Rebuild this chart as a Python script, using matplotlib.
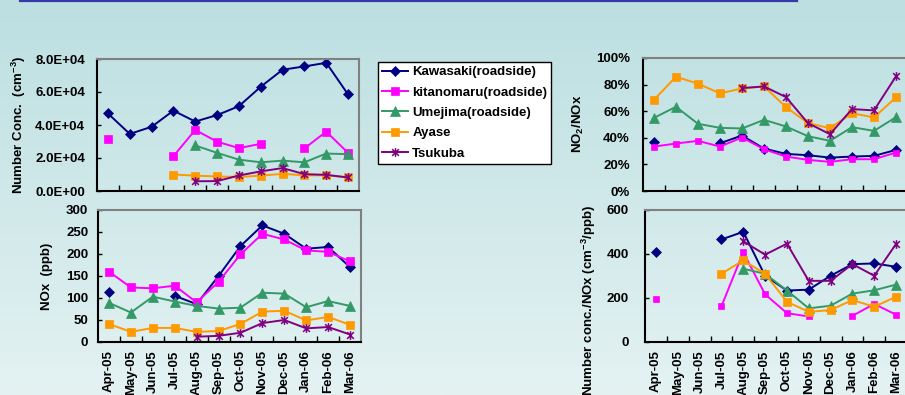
import numpy as np
import matplotlib.pyplot as plt
from matplotlib.path import Path
from matplotlib.lines import Line2D
from matplotlib.ticker import FuncFormatter, MultipleLocator, FixedLocator

plt.rcParams['font.family'] = ['Liberation Sans', 'DejaVu Sans']
plt.rcParams['font.weight'] = 'bold'
plt.rcParams['font.size'] = 9.5

nan = np.nan
months = ['Apr-05', 'May-05', 'Jun-05', 'Jul-05', 'Aug-05', 'Sep-05',
          'Oct-05', 'Nov-05', 'Dec-05', 'Jan-06', 'Feb-06', 'Mar-06']
sites = ['Kawasaki(roadside)', 'kitanomaru(roadside)', 'Umejima(roadside)',
         'Ayase', 'Tsukuba']

# particle number concentration (cm-3)
kawasaki_num = [4.70e4, 3.46e4, 3.89e4, 4.87e4, 4.21e4, 4.60e4, 5.14e4, 6.32e4, 7.35e4, 7.55e4, 7.77e4, 5.85e4]
kitano_num = [3.13e4, nan, nan, 2.11e4, 3.70e4, 2.99e4, 2.60e4, 2.86e4, nan, 2.58e4, 3.60e4, 2.31e4]
umejima_num = [nan, nan, nan, nan, 2.76e4, 2.31e4, 1.90e4, 1.74e4, 1.84e4, 1.74e4, 2.27e4, 2.23e4]
ayase_num = [nan, nan, nan, 1.00e4, 0.93e4, 0.88e4, 0.85e4, 0.93e4, 1.04e4, 0.95e4, 0.95e4, 0.82e4]
tsukuba_num = [nan, nan, nan, nan, 0.59e4, 0.60e4, 0.94e4, 1.19e4, 1.39e4, 1.02e4, 0.98e4, 0.82e4]

# NOx (ppb)
kawasaki_nox = [113, nan, nan, 105, 86, 150, 218, 265, 246, 212, 216, 170]
kitano_nox = [160, 124, 122, 128, 90, 137, 199, 246, 233, 208, 205, 183]
umejima_nox = [89, 67, 103, 92, 82, 76, 78, 112, 110, 79, 93, 82]
ayase_nox = [41, 23, 32, 32, 23, 25, 41, 69, 71, 49, 57, 39]
tsukuba_nox = [nan, nan, nan, nan, 12, 14, 21, 43, 50, 31, 34, 17]

# NO2/NOx (%)
kawasaki_ratio = [36.7, nan, nan, 35.9, 41.7, 31.9, 27.9, 26.9, 25.1, 25.9, 26.4, 30.9]
kitano_ratio = [33.4, 35.7, 37.7, 33.4, 40.2, 31.4, 25.9, 23.4, 21.9, 23.9, 23.9, 28.9]
umejima_ratio = [55.0, 63.3, 50.5, 47.5, 47.0, 53.5, 48.5, 41.2, 37.7, 48.0, 45.2, 55.5]
ayase_ratio = [68.6, 85.9, 80.7, 73.4, 77.1, 78.6, 63.1, 51.0, 47.2, 58.5, 55.3, 70.4]
tsukuba_ratio = [nan, nan, nan, nan, 77.4, 78.6, 70.6, 51.0, 42.7, 61.6, 60.6, 86.2]

# number conc. per NOx (cm-3/ppb)
kawasaki_pn = [408, nan, nan, 466, 501, 301, 234, 238, 301, 354, 357, 342]
kitano_pn = [197, nan, nan, 162, 408, 217, 131, 116, nan, 119, 173, 124]
umejima_pn = [nan, nan, nan, nan, 333, 310, 234, 153, 165, 220, 235, 261]
ayase_pn = [nan, nan, nan, 310, 371, 310, 183, 137, 145, 191, 160, 206]
tsukuba_pn = [nan, nan, nan, nan, 458, 397, 447, 278, 278, 354, 301, 446]

# excel-like star: an X with a vertical bar
star = Path([(-1, -1), (1, 1), (-1, 1), (1, -1), (0, -1.3), (0, 1.3)],
            [Path.MOVETO, Path.LINETO, Path.MOVETO, Path.LINETO, Path.MOVETO, Path.LINETO])

colors = ['#000080', '#FF00FF', '#339966', '#FF9900', '#800080']
markers = ['D', 's', '^', 's', star]

W, H = 905, 395
fig = plt.figure(figsize=(W / 100, H / 100), dpi=100)

# slide background gradient
bg = fig.add_axes([0, 0, 1, 1], zorder=-10)
grad = np.linspace(0, 1, 256)[:, None]
top = np.array([188, 223, 225]) / 255
bot = np.array([228, 242, 242]) / 255
img = top + (bot - top) * grad[:, :, None]
bg.imshow(img, aspect='auto', extent=[0, 1, 0, 1])
bg.axis('off')
fig.add_artist(Line2D([20 / W, 797 / W], [1 - 1 / H, 1 - 1 / H], color='#3838A8', lw=1.6))


def px_axes(l, r, t, b):
    return fig.add_axes([l / W, 1 - b / H, (r - l) / W, (b - t) / H])


def setup(ax, ymax, ystep, fmt, pad, xlabels):
    ax.set_facecolor('none')
    ax.set_xlim(-0.5, 11.5)
    ax.set_ylim(0, ymax)
    ax.yaxis.set_major_locator(MultipleLocator(ystep))
    ax.yaxis.set_major_formatter(FuncFormatter(fmt))
    ax.xaxis.set_major_locator(FixedLocator(np.arange(12)))
    ax.xaxis.set_minor_locator(FixedLocator(np.arange(0.5, 11, 1)))
    ax.tick_params(axis='x', which='major', length=0, pad=6)
    ax.tick_params(axis='x', which='minor', direction='in', length=4, width=1)
    ax.tick_params(axis='y', direction='in', length=3, width=1, pad=pad)
    if xlabels:
        ax.set_xticklabels(months, rotation=90, va='top', ha='center')
    else:
        ax.set_xticklabels([])
    for s in ['left', 'bottom']:
        ax.spines[s].set_color('black')
        ax.spines[s].set_linewidth(1.5)
    for s in ['top', 'right']:
        ax.spines[s].set_color('#808080')
        ax.spines[s].set_linewidth(1.5)


def draw(ax, series, sizes):
    x = np.arange(12)
    for vals, c, m, ms, name in zip(series, colors, markers, sizes, sites):
        ax.plot(x, vals, color=c, marker=m, ms=ms, lw=1.4, label=name,
                markeredgecolor=c, markeredgewidth=1.1 if m is star else 0.5)


sizes_left = [5.5, 6.3, 6.5, 5.5, 6.3]
sizes_right = [5.5, 3.8, 6.5, 6.0, 6.3]

ax1 = px_axes(97, 359, 59, 191)
draw(ax1, [kawasaki_num, kitano_num, umejima_num, ayase_num, tsukuba_num], sizes_left)
setup(ax1, 8e4, 2e4, lambda v, p: f'{v:.1E}', 8.5, False)

ax2 = px_axes(98, 361, 210, 342)
draw(ax2, [kawasaki_nox, kitano_nox, umejima_nox, ayase_nox, tsukuba_nox], sizes_left)
setup(ax2, 300, 50, lambda v, p: f'{v:.0f}', 7, True)

ax3 = px_axes(643, 907, 58, 191)
draw(ax3, [kawasaki_ratio, kitano_ratio, umejima_ratio, ayase_ratio, tsukuba_ratio], sizes_right)
setup(ax3, 100, 20, lambda v, p: f'{v:.0f}%', 9.5, False)

ax4 = px_axes(645, 907, 210, 342)
draw(ax4, [kawasaki_pn, kitano_pn, umejima_pn, ayase_pn, tsukuba_pn], sizes_right)
setup(ax4, 600, 200, lambda v, p: f'{v:.0f}', 11.5, True)

# axis titles
def ytitle(xp, yp, s):
    fig.text(xp / W, 1 - yp / H, s, rotation=90, ha='center', va='center')

ytitle(19, 125, r'Number Conc.  (cm$^{\mathregular{-3}}$)')
ytitle(47, 276, 'NOx  (ppb)')
ytitle(578, 124, r'NO$_{\mathregular{2}}$/NOx')
ytitle(589, 300, r'Number conc./NOx (cm$^{\mathregular{-3}}$/ppb)')

handles, labels = ax1.get_legend_handles_labels()
leg = fig.legend(handles, labels, loc='upper left', bbox_to_anchor=(378 / W, 1 - 62 / H),
                 borderaxespad=0, fancybox=False, framealpha=1, edgecolor='black',
                 handlelength=2.0, handletextpad=0.3, labelspacing=0.62,
                 borderpad=0.3, prop={'weight': 'bold', 'size': 9.5})
leg.get_frame().set_linewidth(1.0)

fig.savefig('out.png', dpi=100)
